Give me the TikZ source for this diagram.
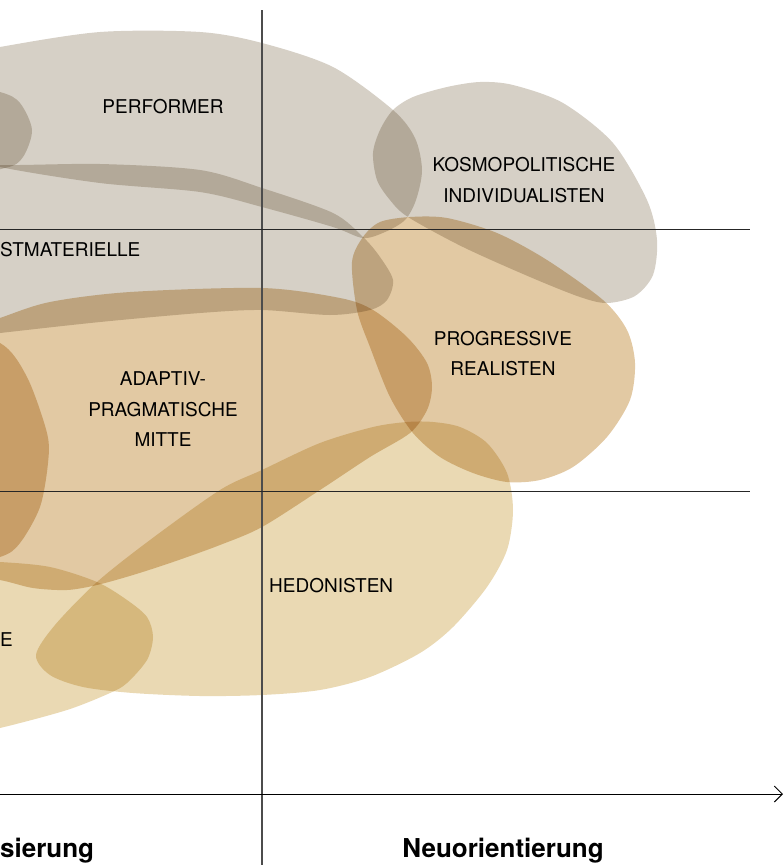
\documentclass[tikz,border=0pt]{standalone}
\usepackage{fontspec}
\setmainfont{TeX Gyre Heros}
\usepackage{xcolor}
\usepackage{tikz}
\usetikzlibrary{arrows.meta}

\definecolor{milieugray}{RGB}{214,208,198}
\definecolor{milieutan}{RGB}{226,201,163}
\definecolor{milieusand}{RGB}{234,217,179}

\begin{document}
\begin{tikzpicture}[x=1pt,y=-1pt,
        milieu/.style={font=\fontsize{19}{30.5}\selectfont, text=black, align=center, inner sep=0pt},
        axislabel/.style={font=\fontsize{26}{30}\selectfont\bfseries, text=black, inner sep=0pt},
        gridline/.style={black!85, line width=0.9pt}]
        \useasboundingbox (0,0) rectangle (784,865);
        \clip (0,0) rectangle (784,865);

        % Milieu areas (multiplied where they overlap)
        \begin{scope}[blend group=multiply]
            % Performer
            \fill[milieugray] plot[smooth cycle] coordinates {(-60,60) (0,47) (100,32) (200,32) (262,43) (333,67) (393,110) (415,138) (422,170) (416,200) (405,220) (385,232) (363,238) (333,227) (262,207) (200,192) (100,183) (0,167) (-60,150)};
            % area off the left edge
            \fill[milieugray] plot[smooth cycle] coordinates {(-60,80) (0,92) (20,103) (32,130) (23,157) (5,168) (-60,175)};
            % Postmaterielle
            \fill[milieugray] plot[smooth cycle] coordinates {(-60,160) (0,165) (100,164) (200,170) (262,188) (333,213) (363,237) (380,257) (393,280) (387,300) (370,310) (330,315) (262,310) (200,313) (100,322) (0,333) (-60,340)};
            % Kosmopolitische Individualisten
            \fill[milieugray] plot[smooth cycle] coordinates {(393,110) (413,97) (447,87) (480,82) (513,85) (563,103) (613,143) (647,200) (657,240) (653,275) (635,296) (607,303) (580,297) (530,277) (463,247) (408,217) (390,200) (377,180) (373,153) (380,130)};
            % Progressive Realisten
            \fill[milieutan] plot[smooth cycle] coordinates {(352,262) (363,237) (380,222) (410,217) (447,218) (497,233) (547,260) (603,300) (627,330) (635,363) (630,400) (607,437) (573,467) (540,480) (507,482) (473,473) (440,457) (413,433) (390,397) (370,347) (357,310)};
            % Adaptiv-pragmatische Mitte
            \fill[milieutan] plot[smooth cycle] coordinates {(-60,340) (0,318) (50,302) (130,292) (262,288) (340,298) (373,310) (407,337) (427,363) (432,387) (427,410) (410,433) (370,457) (320,490) (262,527) (220,545) (173,562) (133,575) (97,585) (67,590) (33,588) (0,580) (-60,570)};
            \fill[milieutan] plot[smooth cycle] coordinates {(-60,330) (0,343) (27,377) (47,433) (48,463) (40,507) (20,543) (0,557) (-60,570)};
            % Hedonisten
            \fill[milieusand] plot[smooth cycle] coordinates {(36,655) (55,625) (97,582) (150,540) (220,490) (262,470) (320,443) (373,427) (407,422) (433,422) (460,427) (487,443) (507,473) (513,510) (507,550) (487,587) (453,627) (420,653) (370,677) (320,690) (262,695) (200,696) (133,693) (83,687) (50,675)};
            \fill[milieusand] plot[smooth cycle] coordinates {(-60,560) (0,562) (50,567) (97,582) (127,600) (147,617) (153,637) (147,660) (127,683) (110,693) (67,710) (0,728) (-60,740)};
        \end{scope}

        % Quadrant lines
        \draw[black!70, line width=1.1pt] (262,10) -- (262,865);
        \foreach \y in {229,491} {
            \draw[gridline] (0,\y) -- (750,\y);
        }

        % Horizontal axis
        \coordinate (axisstart) at (0,794);
        \coordinate (axisend) at (783,794);
        \draw[black, line width=1pt, -{Straight Barb[length=8pt,width=16pt]}] (axisstart) -- (axisend);

        % Milieu names
        \node[milieu] (performer) at (163,107) {PERFORMER};
        \node[milieu, anchor=west] (postmat) at (0,250) {STMATERIELLE};
        \node[milieu] (kosmo) at (524,180) {KOSMOPOLITISCHE\\INDIVIDUALISTEN};
        \node[milieu] (progressive) at (503,353.5) {PROGRESSIVE\\REALISTEN};
        \node[milieu] (adaptiv) at (163,409.5) {ADAPTIV-\\PRAGMATISCHE\\MITTE};
        \node[milieu, anchor=west] (hedonisten) at (269,586) {HEDONISTEN};
        \node[milieu, anchor=west] (cutlabel) at (0,640) {E};

        % Axis labels
        \node[axislabel, anchor=west] (modern) at (0,851) {sierung};
        \node[axislabel] (neu) at (503,851) {Neuorientierung};
\end{tikzpicture}
\end{document}
